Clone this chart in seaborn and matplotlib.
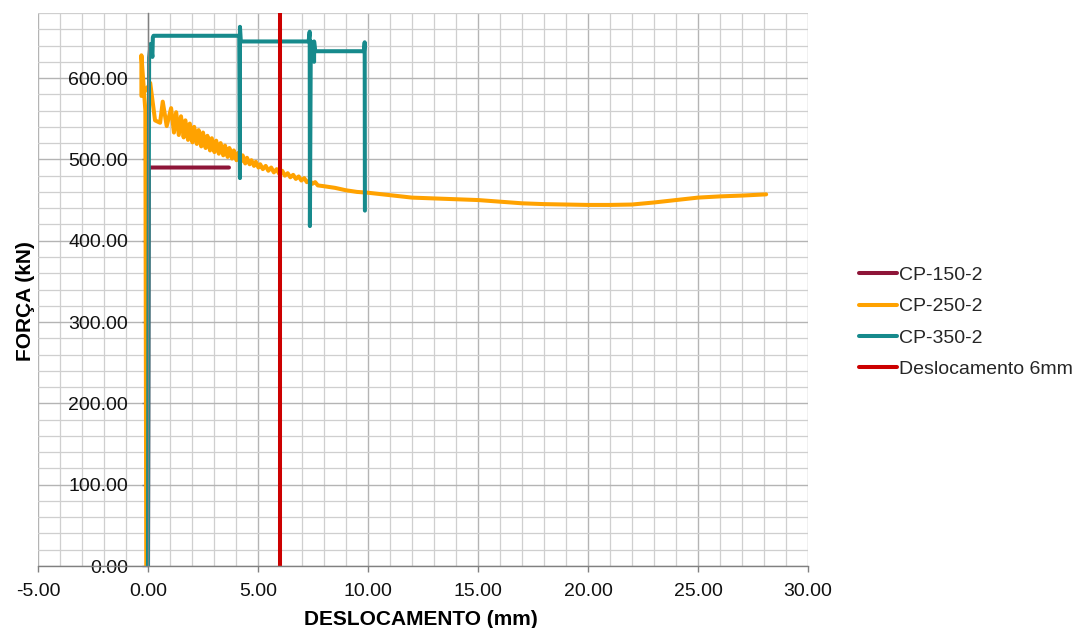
import matplotlib
matplotlib.use("Agg")
import matplotlib.pyplot as plt
from matplotlib.ticker import MultipleLocator, FormatStrFormatter
import numpy as np
import pandas as pd
import seaborn as sns

# ---- measured load–displacement curves ----
cp150_x = [0.00, 0.03, 0.06, 3.68]
cp150_y = [0.0, 488.0, 490.0, 490.0]

cp250_x = [-0.08, -0.12, -0.30, -0.30, 0.02, 0.10, 0.32, 0.55, 0.67, 0.85,
           1.05, 1.18, 1.28, 1.40, 1.50, 1.62, 1.70, 1.82, 1.90, 2.02,
           2.10, 2.22, 2.30, 2.42, 2.50, 2.62, 2.70, 2.82, 2.90, 3.02,
           3.10, 3.22, 3.30, 3.42, 3.50, 3.62, 3.70, 3.82, 3.90, 4.02,
           4.10, 4.22, 4.30, 4.42, 4.50, 4.62, 4.70, 4.82, 4.90, 5.02,
           5.10, 5.22, 5.35, 5.47, 5.60, 5.72, 5.85, 5.97, 6.10, 6.22,
           6.35, 6.47, 6.60, 6.72, 6.85, 6.97, 7.10, 7.22, 7.35, 7.47,
           7.60, 7.72, 8.00, 8.50, 9.00, 9.50, 10.00, 11.00, 12.00, 13.00,
           14.00, 15.00, 16.00, 17.00, 18.00, 19.00, 20.00, 21.00, 22.00, 23.00,
           24.00, 25.00, 26.00, 27.00, 28.10]
cp250_y = [0.0, 560.0, 628.0, 578.0, 590.0, 594.0, 548.0, 545.0, 571.0, 541.0,
           563.0, 533.0, 558.0, 530.0, 553.0, 527.0, 548.0, 524.0, 544.0, 521.0,
           540.0, 519.0, 536.0, 516.0, 533.0, 514.0, 529.0, 511.0, 526.0, 509.0,
           523.0, 507.0, 520.0, 505.0, 517.0, 503.0, 514.0, 501.0, 511.0, 499.0,
           508.0, 497.0, 505.0, 495.0, 502.0, 494.0, 499.0, 492.0, 497.0, 490.0,
           494.0, 488.0, 492.0, 486.0, 490.0, 484.0, 488.0, 482.0, 486.0, 480.0,
           483.0, 478.0, 481.0, 476.0, 479.0, 474.0, 477.0, 472.0, 474.0, 470.0,
           472.0, 468.0, 467.0, 465.0, 462.0, 460.0, 459.0, 456.0, 453.0, 452.0,
           451.0, 450.0, 448.0, 446.0, 445.0, 444.5, 444.0, 444.0, 444.5, 447.0,
           450.0, 453.0, 454.5, 455.5, 457.0]

cp350_x = [0.00, 0.02, 0.05, 0.12, 0.20, 0.22, 0.25, 4.15, 4.18, 4.18,
           4.22, 7.30, 7.35, 7.36, 7.40, 7.55, 7.55, 7.60, 9.82, 9.85, 9.86]
cp350_y = [0.0, 300.0, 625.0, 642.0, 626.0, 650.0, 652.0, 652.0, 477.0, 663.0,
           645.0, 645.0, 657.0, 418.0, 645.0, 620.0, 645.0, 633.0, 633.0, 644.0, 437.0]

limit_x = [6.0, 6.0]
limit_y = [0.0, 680.0]

series_names = ["CP-150-2", "CP-250-2", "CP-350-2", "Deslocamento 6mm"]
series_colors = ["#8E1538", "#FFA200", "#168A8C", "#CC0000"]

frames = []
for name, xs, ys in zip(series_names,
                        [cp150_x, cp250_x, cp350_x, limit_x],
                        [cp150_y, cp250_y, cp350_y, limit_y]):
    frames.append(pd.DataFrame({"x": xs, "y": ys, "serie": name,
                                "ordem": np.arange(len(xs))}))
df = pd.concat(frames, ignore_index=True)

sns.set_theme(style="white")
plt.rcParams["font.family"] = ["Liberation Sans", "DejaVu Sans"]

fig = plt.figure(figsize=(10.8, 6.28), dpi=100)
ax = fig.add_axes([0.0352, 0.0987, 0.7129, 0.8806])

sns.lineplot(data=df, x="x", y="y", hue="serie", hue_order=series_names,
             palette=dict(zip(series_names, series_colors)),
             sort=False, estimator=None, units="serie", linewidth=2.9,
             ax=ax, legend=True)

ax.set_xlim(-5, 30)
ax.set_ylim(0, 680)

ax.xaxis.set_major_locator(MultipleLocator(5))
ax.xaxis.set_minor_locator(MultipleLocator(1))
ax.yaxis.set_major_locator(MultipleLocator(100))
ax.yaxis.set_minor_locator(MultipleLocator(20))
ax.xaxis.set_major_formatter(FormatStrFormatter("%.2f"))
ax.yaxis.set_major_formatter(FormatStrFormatter("%.2f"))
ax.set_yticks([0, 100, 200, 300, 400, 500, 600])

ax.grid(which="major", color="#B4B4B4", linewidth=1.0)
ax.grid(which="minor", color="#CFCFCF", linewidth=0.9)
ax.set_axisbelow(True)

for side in ["top", "right"]:
    ax.spines[side].set_visible(False)
ax.spines["left"].set_position(("data", 0))
ax.spines["left"].set_color("#808080")
ax.spines["bottom"].set_color("#808080")
ax.spines["left"].set_linewidth(1.0)
ax.spines["bottom"].set_linewidth(1.0)

ax.tick_params(axis="x", which="major", direction="out", length=4.3, width=1,
               color="#808080", pad=8, labelsize=14, labelcolor="#111111",
               bottom=True)
ax.tick_params(axis="y", which="major", direction="out", length=4.3, width=1,
               color="#808080", pad=10, labelsize=14, labelcolor="#111111",
               left=True)
ax.tick_params(which="minor", length=0)

ax.set_xlabel("DESLOCAMENTO (mm)", fontsize=15, fontweight="bold", color="#000000")
ax.set_ylabel("FORÇA (kN)", fontsize=15, fontweight="bold", color="#000000")
ax.xaxis.set_label_coords(0.497, -0.0796)
ax.xaxis.label.set_va("top")
ax.yaxis.set_label_coords(-0.004, 0.48)

handles, labels = ax.get_legend_handles_labels()
ax.legend(handles, labels, loc="center left", bbox_to_anchor=(0.795, 0.487),
          bbox_transform=fig.transFigure, frameon=False, fontsize=14,
          borderpad=0, borderaxespad=0, handlelength=2.0, handletextpad=0.1,
          labelspacing=0.7)

fig.savefig("out.png", dpi=100, facecolor="white")
